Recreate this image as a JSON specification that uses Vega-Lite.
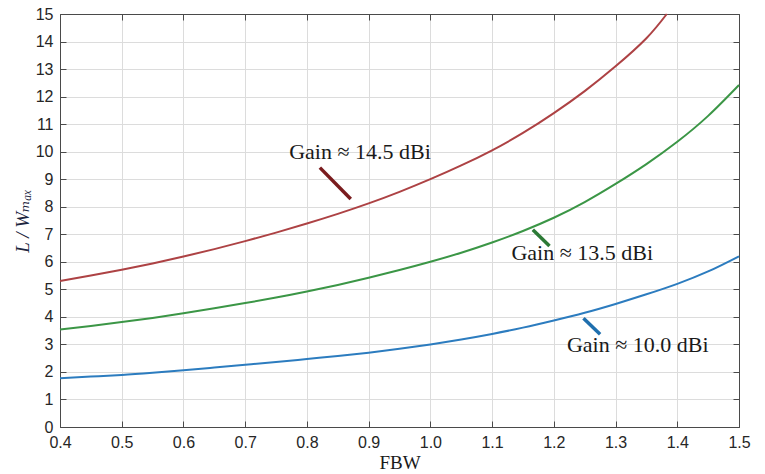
{
  "$schema": "https://vega.github.io/schema/vega-lite/v6.json",
  "width": 679,
  "height": 413,
  "autosize": {"type": "none"},
  "padding": {"left": 60, "top": 14, "right": 26, "bottom": 47},
  "background": "white",
  "config": {
    "view": {"stroke": null},
    "axis": {
      "domainColor": "#4a4a4a",
      "domainWidth": 1,
      "tickColor": "#4a4a4a",
      "tickSize": -6,
      "tickWidth": 1,
      "gridColor": "#dcdcdc",
      "gridWidth": 1,
      "labelFont": "Liberation Sans",
      "labelFontSize": 16,
      "labelColor": "#262626",
      "titleFont": "Liberation Serif, Times New Roman, DejaVu Serif, serif",
      "titleFontWeight": "normal",
      "titleColor": "#1a1a1a"
    }
  },
  "datasets": {
    "curves": [
      {"fbw": 0.40, "ratio": 1.77, "gain": "10.0 dBi"},
      {"fbw": 0.45, "ratio": 1.83, "gain": "10.0 dBi"},
      {"fbw": 0.50, "ratio": 1.89, "gain": "10.0 dBi"},
      {"fbw": 0.55, "ratio": 1.97, "gain": "10.0 dBi"},
      {"fbw": 0.60, "ratio": 2.06, "gain": "10.0 dBi"},
      {"fbw": 0.65, "ratio": 2.16, "gain": "10.0 dBi"},
      {"fbw": 0.70, "ratio": 2.26, "gain": "10.0 dBi"},
      {"fbw": 0.75, "ratio": 2.36, "gain": "10.0 dBi"},
      {"fbw": 0.80, "ratio": 2.47, "gain": "10.0 dBi"},
      {"fbw": 0.85, "ratio": 2.58, "gain": "10.0 dBi"},
      {"fbw": 0.90, "ratio": 2.70, "gain": "10.0 dBi"},
      {"fbw": 0.95, "ratio": 2.84, "gain": "10.0 dBi"},
      {"fbw": 1.00, "ratio": 3.00, "gain": "10.0 dBi"},
      {"fbw": 1.05, "ratio": 3.18, "gain": "10.0 dBi"},
      {"fbw": 1.10, "ratio": 3.38, "gain": "10.0 dBi"},
      {"fbw": 1.15, "ratio": 3.61, "gain": "10.0 dBi"},
      {"fbw": 1.20, "ratio": 3.87, "gain": "10.0 dBi"},
      {"fbw": 1.25, "ratio": 4.15, "gain": "10.0 dBi"},
      {"fbw": 1.30, "ratio": 4.47, "gain": "10.0 dBi"},
      {"fbw": 1.35, "ratio": 4.82, "gain": "10.0 dBi"},
      {"fbw": 1.40, "ratio": 5.20, "gain": "10.0 dBi"},
      {"fbw": 1.45, "ratio": 5.65, "gain": "10.0 dBi"},
      {"fbw": 1.50, "ratio": 6.20, "gain": "10.0 dBi"},
      {"fbw": 0.40, "ratio": 3.54, "gain": "13.5 dBi"},
      {"fbw": 0.45, "ratio": 3.67, "gain": "13.5 dBi"},
      {"fbw": 0.50, "ratio": 3.81, "gain": "13.5 dBi"},
      {"fbw": 0.55, "ratio": 3.96, "gain": "13.5 dBi"},
      {"fbw": 0.60, "ratio": 4.13, "gain": "13.5 dBi"},
      {"fbw": 0.65, "ratio": 4.31, "gain": "13.5 dBi"},
      {"fbw": 0.70, "ratio": 4.50, "gain": "13.5 dBi"},
      {"fbw": 0.75, "ratio": 4.70, "gain": "13.5 dBi"},
      {"fbw": 0.80, "ratio": 4.92, "gain": "13.5 dBi"},
      {"fbw": 0.85, "ratio": 5.16, "gain": "13.5 dBi"},
      {"fbw": 0.90, "ratio": 5.42, "gain": "13.5 dBi"},
      {"fbw": 0.95, "ratio": 5.70, "gain": "13.5 dBi"},
      {"fbw": 1.00, "ratio": 6.00, "gain": "13.5 dBi"},
      {"fbw": 1.05, "ratio": 6.33, "gain": "13.5 dBi"},
      {"fbw": 1.10, "ratio": 6.70, "gain": "13.5 dBi"},
      {"fbw": 1.15, "ratio": 7.12, "gain": "13.5 dBi"},
      {"fbw": 1.20, "ratio": 7.60, "gain": "13.5 dBi"},
      {"fbw": 1.25, "ratio": 8.17, "gain": "13.5 dBi"},
      {"fbw": 1.30, "ratio": 8.83, "gain": "13.5 dBi"},
      {"fbw": 1.35, "ratio": 9.55, "gain": "13.5 dBi"},
      {"fbw": 1.40, "ratio": 10.36, "gain": "13.5 dBi"},
      {"fbw": 1.45, "ratio": 11.30, "gain": "13.5 dBi"},
      {"fbw": 1.50, "ratio": 12.42, "gain": "13.5 dBi"},
      {"fbw": 0.40, "ratio": 5.30, "gain": "14.5 dBi"},
      {"fbw": 0.45, "ratio": 5.50, "gain": "14.5 dBi"},
      {"fbw": 0.50, "ratio": 5.71, "gain": "14.5 dBi"},
      {"fbw": 0.55, "ratio": 5.94, "gain": "14.5 dBi"},
      {"fbw": 0.60, "ratio": 6.19, "gain": "14.5 dBi"},
      {"fbw": 0.65, "ratio": 6.46, "gain": "14.5 dBi"},
      {"fbw": 0.70, "ratio": 6.75, "gain": "14.5 dBi"},
      {"fbw": 0.75, "ratio": 7.06, "gain": "14.5 dBi"},
      {"fbw": 0.80, "ratio": 7.39, "gain": "14.5 dBi"},
      {"fbw": 0.85, "ratio": 7.74, "gain": "14.5 dBi"},
      {"fbw": 0.90, "ratio": 8.12, "gain": "14.5 dBi"},
      {"fbw": 0.95, "ratio": 8.54, "gain": "14.5 dBi"},
      {"fbw": 1.00, "ratio": 9.00, "gain": "14.5 dBi"},
      {"fbw": 1.05, "ratio": 9.50, "gain": "14.5 dBi"},
      {"fbw": 1.10, "ratio": 10.05, "gain": "14.5 dBi"},
      {"fbw": 1.15, "ratio": 10.68, "gain": "14.5 dBi"},
      {"fbw": 1.20, "ratio": 11.40, "gain": "14.5 dBi"},
      {"fbw": 1.25, "ratio": 12.20, "gain": "14.5 dBi"},
      {"fbw": 1.30, "ratio": 13.10, "gain": "14.5 dBi"},
      {"fbw": 1.35, "ratio": 14.12, "gain": "14.5 dBi"},
      {"fbw": 1.383, "ratio": 15.00, "gain": "14.5 dBi"}
    ],
    "callouts": [
      {"gain": "14.5 dBi", "x1": 0.821, "y1": 9.42, "x2": 0.871, "y2": 8.28, "tx": 0.886, "ty": 10.0, "label": "Gain ≈ 14.5 dBi"},
      {"gain": "13.5 dBi", "x1": 1.166, "y1": 7.16, "x2": 1.193, "y2": 6.57, "tx": 1.246, "ty": 6.32, "label": "Gain ≈ 13.5 dBi"},
      {"gain": "10.0 dBi", "x1": 1.248, "y1": 3.95, "x2": 1.275, "y2": 3.37, "tx": 1.336, "ty": 2.98, "label": "Gain ≈ 10.0 dBi"}
    ]
  },
  "resolve": {
    "scale": {"color": "independent"},
    "axis": {"x": "independent", "y": "independent"}
  },
  "layer": [
    {
      "data": {"name": "curves"},
      "mark": {"type": "line", "strokeWidth": 2, "interpolate": "natural"},
      "encoding": {
        "x": {
          "field": "fbw", "type": "quantitative",
          "scale": {"domain": [0.4, 1.5], "nice": false, "zero": false},
          "axis": {
            "orient": "bottom", "title": "FBW", "titleFontSize": 19, "titlePadding": 3,
            "values": [0.4, 0.5, 0.6, 0.7, 0.8, 0.9, 1.0, 1.1, 1.2, 1.3, 1.4, 1.5],
            "format": ".1f", "labelPadding": 13, "labelFlush": false
          }
        },
        "y": {
          "field": "ratio", "type": "quantitative",
          "scale": {"domain": [0, 15], "nice": false},
          "axis": {
            "orient": "left", "title": "L / Wₘₐₓ", "titleFontSize": 19, "titleFontStyle": "italic",
            "titleColor": "#1c2540", "titlePadding": 3,
            "values": [0, 1, 2, 3, 4, 5, 6, 7, 8, 9, 10, 11, 12, 13, 14, 15],
            "labelPadding": 13, "labelFlush": false
          }
        },
        "color": {
          "field": "gain", "type": "nominal", "legend": null,
          "scale": {"domain": ["10.0 dBi", "13.5 dBi", "14.5 dBi"], "range": ["#2c7cbf", "#3b9646", "#ad4244"]}
        },
        "detail": {"field": "gain"}
      }
    },
    {
      "data": {"name": "callouts"},
      "mark": {"type": "rule", "strokeWidth": 3.5},
      "encoding": {
        "x": {
          "field": "x1", "type": "quantitative",
          "scale": {"domain": [0.4, 1.5], "nice": false, "zero": false},
          "axis": {
            "orient": "top", "title": null, "labels": false, "grid": false,
            "values": [0.4, 0.5, 0.6, 0.7, 0.8, 0.9, 1.0, 1.1, 1.2, 1.3, 1.4, 1.5]
          }
        },
        "x2": {"field": "x2"},
        "y": {
          "field": "y1", "type": "quantitative",
          "scale": {"domain": [0, 15], "nice": false},
          "axis": {
            "orient": "right", "title": null, "labels": false, "grid": false,
            "values": [0, 1, 2, 3, 4, 5, 6, 7, 8, 9, 10, 11, 12, 13, 14, 15]
          }
        },
        "y2": {"field": "y2"},
        "color": {
          "field": "gain", "type": "nominal", "legend": null,
          "scale": {"domain": ["10.0 dBi", "13.5 dBi", "14.5 dBi"], "range": ["#1f6fae", "#2c7a36", "#7a1c1e"]}
        }
      }
    },
    {
      "data": {"name": "callouts"},
      "mark": {"type": "text", "font": "Liberation Serif, Times New Roman, DejaVu Serif, serif", "fontSize": 22, "color": "#1a1a1a", "align": "center", "baseline": "middle"},
      "encoding": {
        "x": {"field": "tx", "type": "quantitative", "scale": {"domain": [0.4, 1.5], "nice": false, "zero": false}, "axis": null},
        "y": {"field": "ty", "type": "quantitative", "scale": {"domain": [0, 15], "nice": false}, "axis": null},
        "text": {"field": "label"}
      }
    }
  ]
}
